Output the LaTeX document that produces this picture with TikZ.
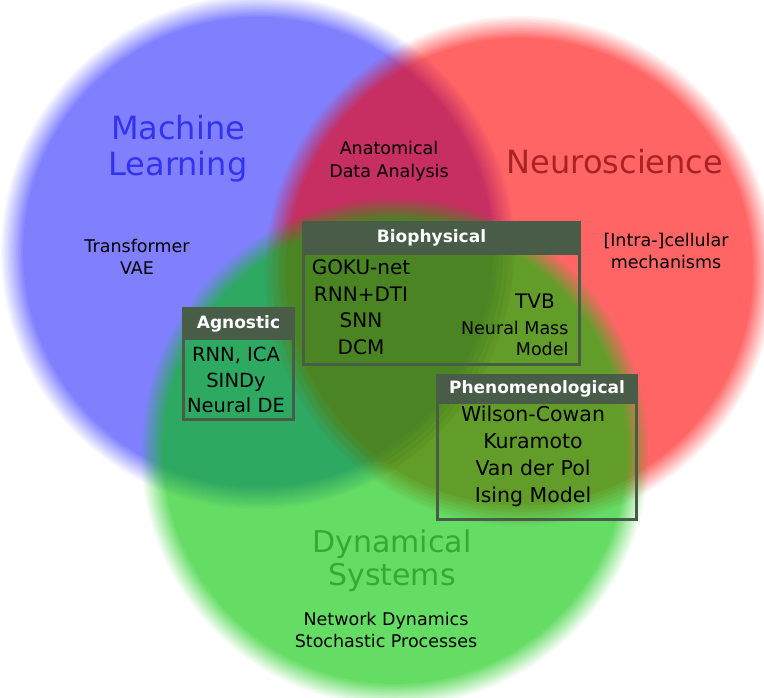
\documentclass[tikz,border=0pt]{standalone}
\usepackage{fontspec}
\setmainfont{DejaVu Sans}
\usetikzlibrary{positioning}

\definecolor{mlblue}{RGB}{128,128,255}
\definecolor{nsred}{RGB}{255,0,0}
\definecolor{dsgreen}{RGB}{0,198,0}
\definecolor{mltext}{RGB}{51,51,238}
\definecolor{nstext}{RGB}{170,34,34}
\definecolor{dstext}{RGB}{51,170,51}
\definecolor{boxgray}{RGB}{72,92,72}

% disc with a soft rim: #1 colour, #2 centre, #3 radius, #4 opacity
\newcommand{\softdisc}[4]{%
  \foreach \j in {1,...,14}{
    \pgfmathsetmacro{\discr}{#3+11-22*(\j-1)/13}
    \pgfmathsetmacro{\disca}{#4/(14-#4*(\j-1))}
    \fill[#1, fill opacity=\disca] (#2) circle (\discr pt);
  }%
}

\tikzset{
  field/.style={font=\fontsize{32}{36}\selectfont, align=center},
  topic/.style={font=\fontsize{17.5}{22.5}\selectfont, align=center},
  boxframe/.style={draw=boxgray, line width=3pt, inner sep=0pt, anchor=north west},
  boxtitle/.style={text=white, font=\bfseries\fontsize{17}{20}\selectfont},
  boxitems/.style={font=\fontsize{20}{26.5}\selectfont, align=center},
}

\begin{document}
\begin{tikzpicture}[x=1pt,y=-1pt]
\useasboundingbox (0,0) rectangle (764,698);

%%%%%%%%%%%%%%%%%%%%%%%%%%%%%%%%%%%%%%%%%%% circles
\coordinate (mlc) at (258,252);
\coordinate (nsc) at (520,271);
\coordinate (dsc) at (395,452);

\softdisc{mlblue}{mlc}{246}{1}
\softdisc{nsred}{nsc}{244}{0.6}
\softdisc{dsgreen}{dsc}{243}{0.6}

%%%%%%%%%%%%%%%%%%%%%%%%%%%%%%%%%%%%%%%%%%% field names
\node[field, text=mltext](ml) at (178,149){Machine\\Learning};
\node[field, text=nstext](ns) at (615,162){Neuroscience};
\node[field, text=dstext, font=\fontsize{30}{33}\selectfont](ds) at (392,561){Dynamical\\Systems};

%%%%% topics
\node[topic](anat) at (389,161){Anatomical\\Data Analysis};
\node[topic](trans) at (137,257){Transformer\\VAE};
\node[topic](cell) at (666,251){[Intra-]cellular\\mechanisms};
\node[topic](netdyn) at (386,630){Network Dynamics\\Stochastic Processes};

%%%%%%%%%%%%%%%%%%%%%%%%%%%%%%%%%%%%%%%%%%% boxes
\node[boxframe, minimum width=276pt, minimum height=142pt](bio) at (302,221){};
\fill[boxgray] (bio.north west) rectangle ([yshift=-34pt]bio.north east);
\node[boxtitle](biot) at ([xshift=-10pt,yshift=-17pt]bio.north){Biophysical};
\node[boxitems](biol) at (361,307){GOKU-net\\RNN+DTI\\SNN\\DCM};
\node[boxitems](tvb) at (535,301){TVB};
\node[topic, align=right, anchor=east, font=\fontsize{17.5}{21}\selectfont](nmm) at (572,338){Neural Mass\\Model};

\node[boxframe, minimum width=110pt, minimum height=111pt](agn) at (182,307){};
\fill[boxgray] (agn.north west) rectangle ([yshift=-33pt]agn.north east);
\node[boxtitle](agnt) at ([yshift=-17pt]agn.north){Agnostic};
\node[boxitems, font=\fontsize{19.5}{25.5}\selectfont](agnl) at (236,380){RNN, ICA\\SINDy\\Neural DE};

\node[boxframe, minimum width=199pt, minimum height=144pt](phen) at (436,374){};
\fill[boxgray] (phen.north west) rectangle ([yshift=-30pt]phen.north east);
\node[boxtitle](phent) at ([yshift=-15pt]phen.north){Phenomenological};
\node[boxitems, font=\fontsize{20.5}{27}\selectfont](phenl) at (533,456){Wilson-Cowan\\Kuramoto\\Van der Pol\\Ising Model};
\end{tikzpicture}
\end{document}
